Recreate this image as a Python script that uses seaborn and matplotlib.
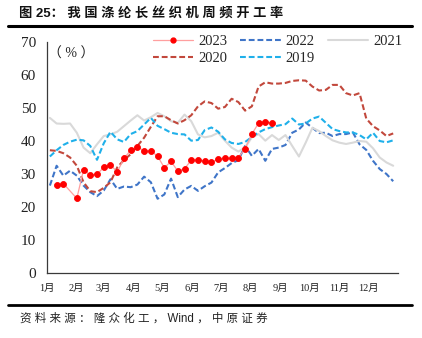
import numpy as np
import pandas as pd
import matplotlib
matplotlib.use("Agg")
import matplotlib.pyplot as plt
import seaborn as sns
from matplotlib.lines import Line2D

# Weekly loom operating rate (%), week 0..51, plotted against day of year
weeks = list(range(52))
days = [3 + 7 * w for w in weeks]

rate_2019 = [35.3, 37.2, 38.8, 39.8, 40.4, 40.2, 38.5, 34.3, 39.3, 42.8,
             40.5, 39.7, 42.1, 43.0, 45.0, 47.0, 44.6, 43.6, 42.5, 42.1,
             42.0, 40.1, 40.3, 43.3, 44.1, 42.8, 40.5, 39.4, 39.1, 39.7,
             41.2, 42.6, 43.6, 44.2, 44.7, 45.1, 46.8, 45.0, 45.3, 46.8,
             47.4, 45.5, 43.6, 43.0, 42.6, 42.6, 41.8, 40.5, 42.5, 40.0,
             39.6, 40.2]

rate_2020 = [37.2, 37.0, 36.3, 35.0, 32.5, 27.5, 24.8, 24.5, 25.8, 27.5,
             32.0, 34.2, 36.0, 38.5, 41.0, 44.3, 47.5, 47.5, 46.3, 45.3,
             46.3, 47.8, 50.5, 52.0, 51.5, 49.8, 50.3, 52.8, 51.8, 49.2,
             50.5, 56.5, 57.8, 57.4, 57.4, 57.6, 58.2, 58.4, 58.3, 56.5,
             55.3, 55.5, 57.0, 57.0, 54.5, 53.8, 54.5, 46.8, 44.5, 43.2,
             41.5, 42.3]

rate_2021 = [47.0, 45.3, 45.2, 45.3, 42.5, 38.0, 36.3, 39.0, 41.5, 42.0,
             42.8, 44.5, 46.2, 47.8, 46.2, 47.2, 48.5, 47.5, 46.0, 45.5,
             48.0, 46.0, 42.0, 41.1, 41.5, 42.5, 40.1, 38.0, 36.8, 38.0,
             41.1, 42.1, 40.1, 41.8, 40.3, 41.8, 38.5, 35.3, 39.5, 44.0,
             43.0, 41.5, 40.2, 39.5, 39.1, 39.5, 40.0, 39.8, 37.8, 35.0,
             33.5, 32.5]

rate_2022 = [26.5, 32.5, 29.5, 31.0, 29.5, 26.5, 24.5, 23.3, 25.0, 28.4,
             25.5, 26.2, 26.0, 26.8, 29.2, 27.5, 22.5, 23.8, 28.6, 23.0,
             25.3, 26.4, 24.9, 26.3, 27.4, 30.5, 31.8, 33.3, 34.2, 38.5,
             35.5, 37.6, 34.0, 37.6, 38.0, 38.8, 42.5, 43.5, 45.6, 44.0,
             42.4, 42.5, 41.5, 42.1, 42.1, 42.6, 39.0, 37.3, 34.0, 31.5,
             30.0, 27.8]

# 2023 so far (week 3 not reported)
rate_2023 = [None, 26.6, 27.1, None, 22.6, 31.3, 29.6, 29.9, 32.0, 32.8,
             30.6, 34.7, 37.2, 38.3, 36.9, 37.0, 35.4, 31.9, 33.8, 30.9,
             31.6, 34.2, 34.2, 33.9, 33.6, 34.5, 34.7, 34.7, 35.0, 37.7,
             42.1, 45.4, 45.8, 45.4]

month_starts = [0, 31, 59, 90, 120, 151, 181, 212, 243, 273, 304, 334, 365]
month_labels = ["1月", "2月", "3月", "4月", "5月", "6月", "7月", "8月",
                "9月", "10月", "11月", "12月", ""]

sns.set_style("white")
plt.rcParams["font.family"] = ["Liberation Serif", "Noto Sans CJK SC"]

W, H = 422, 338
fig = plt.figure(figsize=(W / 100, H / 100), dpi=100)
ax = fig.add_axes([47 / W, 1 - 273 / H, 351 / W, (273 - 42) / H])

c2023_line, c2023_mark = "#FF9F9F", "#FF0000"
c2022, c2021, c2020, c2019 = "#3F75C8", "#D9D9D9", "#C2483C", "#1FB0EA"
dash = (2.8, 1.4)

df23 = pd.DataFrame({"day": days[:len(rate_2023)], "rate": rate_2023}).dropna()
sns.lineplot(data=df23, x="day", y="rate", ax=ax, color=c2023_line, lw=0.9,
             marker="o", markersize=4.3, markerfacecolor=c2023_mark,
             markeredgecolor=c2023_mark, markeredgewidth=0.6, zorder=3)

series = [(rate_2022, c2022, dash), (rate_2021, c2021, None),
          (rate_2020, c2020, dash), (rate_2019, c2019, dash)]
for vals, col, ds in series:
    d = pd.DataFrame({"day": days, "rate": vals})
    line_ax = sns.lineplot(data=d, x="day", y="rate", ax=ax, color=col, lw=1.5, zorder=2)
    if ds:
        line_ax.lines[-1].set_dashes(ds)

ax.set_xlim(0, 365)
ax.set_ylim(0, 70)
ax.set_yticks(range(0, 71, 10))
ax.set_xticks(month_starts)
ax.set_xticklabels(month_labels)
ax.set_xlabel("")
ax.set_ylabel("")
for s in ("top", "right"):
    ax.spines[s].set_visible(False)
for s in ("left", "bottom"):
    ax.spines[s].set_color("#3A3A3A")
    ax.spines[s].set_linewidth(0.9)
ax.tick_params(axis="both", direction="in", length=3, width=0.8, color="#3A3A3A")
ax.tick_params(axis="y", labelsize=11, pad=8, labelcolor="#222222")
ax.tick_params(axis="x", labelsize=7.5, pad=8, labelcolor="#222222")

ax.text(0.004, 0.975, "（ % ）", transform=ax.transAxes, ha="left", va="top",
        fontsize=10, color="#222222")

# legend: two rows of three
handles = {
    "2023": Line2D([], [], color=c2023_line, lw=0.9, marker="o", markersize=3.5,
                   markerfacecolor=c2023_mark, markeredgecolor=c2023_mark),
    "2022": Line2D([], [], color=c2022, lw=1.5, dashes=dash),
    "2021": Line2D([], [], color=c2021, lw=1.5),
    "2020": Line2D([], [], color=c2020, lw=1.5, dashes=dash),
    "2019": Line2D([], [], color=c2019, lw=1.5, dashes=dash),
}
order = ["2023", "2020", "2022", "2019", "2021"]
fig.legend([handles[k] for k in order], order, loc="upper left",
           bbox_to_anchor=(153 / W, 1 - 35 / H), ncol=3, frameon=False,
           fontsize=10.5, handlelength=2.75, handletextpad=0.35,
           columnspacing=0.9, labelspacing=0.25, borderpad=0, borderaxespad=0)

# header and footer
title_font = ["Liberation Sans", "Noto Sans CJK SC"]
fig.text(19 / W, 1 - 13 / H, "图 25： 我 国 涤 纶 长 丝 织 机 周 频 开 工 率",
         ha="left", va="center", fontsize=9.5, weight="bold", family=title_font,
         color="#111111")
fig.add_artist(Line2D([8 / W, 412 / W], [1 - 26 / H] * 2, color="black", lw=2.2))
fig.add_artist(Line2D([8 / W, 412 / W], [1 - 305 / H] * 2, color="black", lw=2.0))
fig.text(20 / W, 1 - 319 / H, "资 料 来 源 ： 隆 众 化 工 ， Wind ， 中 原 证 券",
         ha="left", va="center", fontsize=8.3, family=title_font, color="#222222")

fig.savefig("out.png", dpi=100)
